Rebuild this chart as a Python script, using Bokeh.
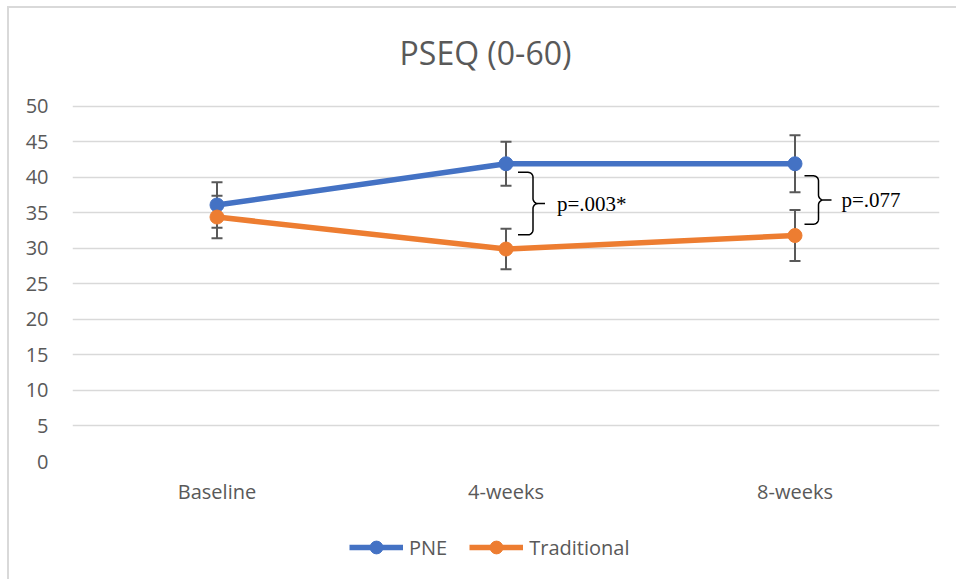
import math
from bokeh.plotting import figure
from bokeh.layouts import column
from bokeh.models import (Range1d, FixedTicker, Label, Legend, LegendItem, ColumnDataSource)
from bokeh.embed import file_html
from bokeh.resources import INLINE

# ---- data ----
categories = ["Baseline", "4-weeks", "8-weeks"]
pne_mean = [36.1, 41.9, 41.9]
pne_sd = [3.2, 3.1, 4.0]
trad_mean = [34.4, 29.9, 31.8]
trad_sd = [3.0, 2.85, 3.6]
y_ticks = [0, 5, 10, 15, 20, 25, 30, 35, 40, 45, 50]
title_text = "PSEQ (0-60)"
series_names = ["PNE", "Traditional"]
p_labels = ["p=.003*", "p=.077"]
p_at = [1, 2]                    # category index of each p-value bracket
p_span = [(40.7, 31.9), (40.2, 33.4)]  # bracket vertical extent (data units)

BLUE = "#4472C4"
ORANGE = "#ED7D31"
GREY = "#595959"
FONT = "Open Sans"

W = 947
ML, MR, MT, MB = 63, 17, 0, 60
FRAME_W = W - ML - MR          # 867
FRAME_H = 453
H = MT + FRAME_H + MB
PX_Y = 355.3 / 50.0            # pixels per value unit
Y_TOP = FRAME_H / PX_Y         # room above 50 holds the title
PX_X = FRAME_W / len(categories)

p = figure(width=W, height=H, output_backend="svg", toolbar_location=None,
           title=None, x_range=Range1d(0, len(categories)), y_range=Range1d(0, Y_TOP),
           min_border_left=ML, min_border_right=MR, min_border_top=MT, min_border_bottom=MB)
p.outline_line_color = None
p.background_fill_color = "white"
p.border_fill_color = "white"

xs = [i + 0.5 for i in range(len(categories))]

# axes
p.xaxis.ticker = FixedTicker(ticks=xs)
p.xaxis.major_label_overrides = {x: c for x, c in zip(xs, categories)}
p.yaxis.ticker = FixedTicker(ticks=y_ticks)
for ax in (p.xaxis[0], p.yaxis[0]):
    ax.axis_line_color = None
    ax.major_tick_line_color = None
    ax.minor_tick_line_color = None
    ax.major_label_text_font = FONT
    ax.major_label_text_font_size = "20px"
    ax.major_label_text_color = GREY
p.xaxis.major_label_standoff = 10
p.yaxis.major_label_standoff = 18

p.xgrid.visible = False
p.ygrid.ticker = FixedTicker(ticks=y_ticks)
p.ygrid.grid_line_color = "#d9d9d9"
p.ygrid.grid_line_width = 1.6

# title (inside the frame, above the 50 line)
p.add_layout(Label(x=413 / PX_X, y=(FRAME_H - 44) / PX_Y, text=title_text,
                   text_font=FONT, text_font_size="32px", text_color=GREY,
                   text_align="center", text_baseline="middle"))

# error bars
for mean, sd in ((pne_mean, pne_sd), (trad_mean, trad_sd)):
    lo = [m - s for m, s in zip(mean, sd)]
    hi = [m + s for m, s in zip(mean, sd)]
    p.segment(x0=xs, y0=lo, x1=xs, y1=hi, line_color=GREY, line_width=2)
    p.scatter(x=xs + xs, y=lo + hi, marker="dash", size=11, line_color=GREY, line_width=2)

# series
for mean, col in ((pne_mean, BLUE), (trad_mean, ORANGE)):
    src = ColumnDataSource(dict(x=xs, y=mean))
    p.line("x", "y", source=src, line_color=col, line_width=5.5)
    p.scatter("x", "y", source=src, marker="circle", size=14, fill_color=col, line_color=col)

# p-value brackets
def brace(xc, y_top, y_bot, dx0, dx1, dx2, r=5.0):
    x0 = xc + dx0 / PX_X
    x1 = xc + dx1 / PX_X
    x2 = xc + dx2 / PX_X
    rx, ry = r / PX_X, r / PX_Y
    ym = (y_top + y_bot) / 2
    bx, by = [x0], [y_top]
    def arc(cx, cy, a0, a1, n=8):
        for k in range(n + 1):
            a = a0 + (a1 - a0) * k / n
            bx.append(cx + rx * math.cos(a))
            by.append(cy + ry * math.sin(a))
    arc(x1 - rx, y_top - ry, math.pi / 2, 0)
    arc(x1 + rx, ym + ry, math.pi, 3 * math.pi / 2)
    bx.append(x2); by.append(ym)
    bx.append(x1 + rx); by.append(ym)
    arc(x1 + rx, ym - ry, math.pi / 2, math.pi)
    arc(x1 - rx, y_bot + ry, 0, -math.pi / 2)
    bx.append(x0); by.append(y_bot)
    return bx, by

brace_geom = [(12, 27, 39, 51), (9.5, 23.5, 36.5, 46.5)]
for idx, lab, (yt, yb), (d0, d1, d2, dt) in zip(p_at, p_labels, p_span, brace_geom):
    bx, by = brace(xs[idx], yt, yb, d0, d1, d2)
    p.line(bx, by, line_color="black", line_width=1.5)
    p.add_layout(Label(x=xs[idx] + dt / PX_X, y=(yt + yb) / 2, text=lab,
                       text_font="Liberation Serif", text_font_size="21px",
                       text_color="black", text_align="left", text_baseline="middle"))

# legend strip below the chart
LH = 58
lg = figure(width=W, height=LH, output_backend="svg", toolbar_location=None, title=None,
            x_range=Range1d(0, 1), y_range=Range1d(0, 1), x_axis_type=None, y_axis_type=None,
            min_border_left=0, min_border_right=0, min_border_top=0, min_border_bottom=0)
lg.outline_line_color = None
lg.xgrid.visible = False
lg.ygrid.visible = False
lg.background_fill_color = "white"
lg.border_fill_color = "white"
items = []
for name, col in zip(series_names, (BLUE, ORANGE)):
    lr = lg.line([-5, -4], [-5, -4], line_color=col, line_width=5.5)
    sr = lg.scatter([-5], [-5], marker="circle", size=14, fill_color=col, line_color=col)
    items.append(LegendItem(label=name, renderers=[lr, sr]))
legend = Legend(items=items, orientation="horizontal", location=(277, 16),
                glyph_width=54, glyph_height=32, label_standoff=6, spacing=22,
                padding=0, margin=0, border_line_color=None, background_fill_alpha=0,
                label_text_font=FONT, label_text_font_size="20px", label_text_color=GREY)
lg.add_layout(legend, "center")

layout = column(p, lg, spacing=0)
layout.styles = {"border-left": "2px solid #d9d9d9", "border-top": "2px solid #d9d9d9",
                 "margin-left": "7px", "margin-top": "6px"}

open("out.html", "w").write(file_html(layout, INLINE))
